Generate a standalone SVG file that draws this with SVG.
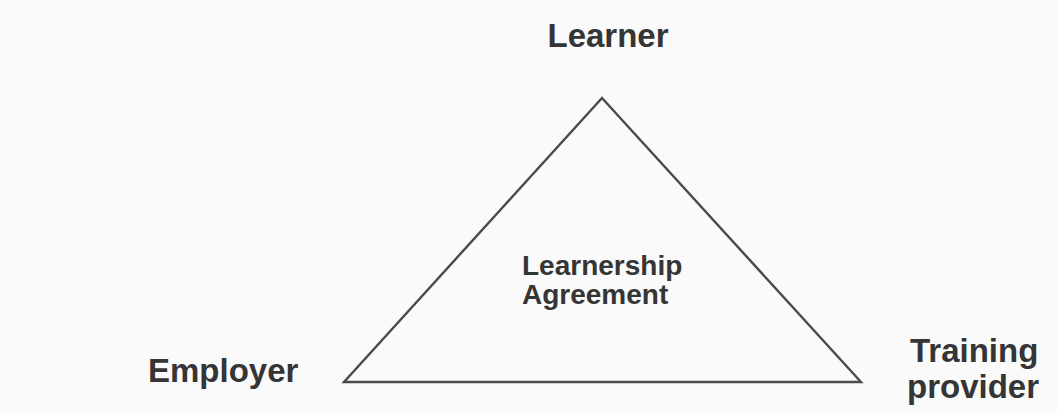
<svg xmlns="http://www.w3.org/2000/svg" width="1057" height="413" viewBox="0 0 1057 413">
<style>
.lbl{font-family:"Liberation Sans",Arial,sans-serif;font-weight:bold;fill:#353535}
.big{font-size:33px}
.mid{font-size:28px}
.edge{fill:none;stroke:#4a4a4a;stroke-width:2.4;stroke-linejoin:miter}
</style>
<rect x="0" y="0" width="1057" height="413" fill="#fafafa"/>
<g id="connectors">
<polygon class="edge" points="602,98 861,382 344,382"/>
</g>
<g id="learner"><text class="lbl big" x="608" y="47" text-anchor="middle" font-size="34.5">Learner</text></g>
<g id="employer"><text class="lbl big" x="148" y="382">Employer</text></g>
<g id="training-provider"><text class="lbl big" x="910" y="362">Training</text><text class="lbl big" x="907" y="398">provider</text></g>
<g id="agreement"><text class="lbl mid" x="522" y="275">Learnership</text><text class="lbl mid" x="522" y="304">Agreement</text></g>
</svg>
